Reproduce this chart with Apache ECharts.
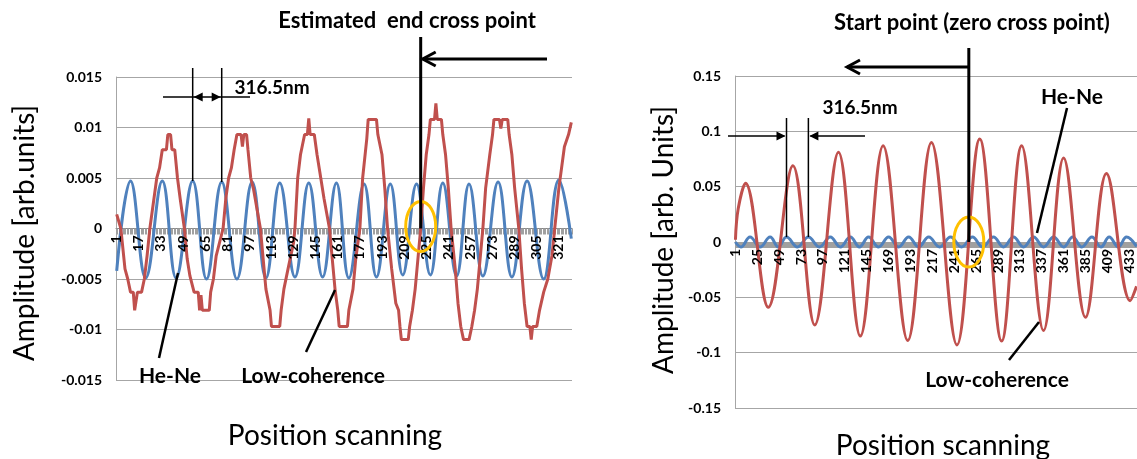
<!DOCTYPE html>
<html><head><meta charset="utf-8">
<script src="https://cdn.jsdelivr.net/npm/echarts@6/dist/echarts.min.js"></script>
<style>html,body{margin:0;padding:0;background:#fff}#c{width:1137px;height:459px}</style>
</head><body><div id="c"></div>
<script>
// ---------- data (category index, amplitude) ----------
const leftCount = 330;
const rightCount = 441;
const leftCategories = Array.from({length: leftCount}, (_, i) => String(i + 1));
const rightCategories = Array.from({length: rightCount}, (_, i) => String(i + 1));

const leftHeNe = [[1,-0.0042],[11,0.0047],[22,-0.0049],[34,0.0047],[44,-0.0049],[56,0.0047],[66,-0.005],[77,0.0046],[88,-0.005],[99,0.0046],[109,-0.0049],[119,0.0045],[130,-0.0048],[140,0.0045],[150,-0.0048],[160,0.0045],[169,-0.0049],[180,0.0044],[189,-0.0048],[199,0.0044],[208,-0.0046],[218,0.0044],[228,-0.0046],[237,0.0045],[247,-0.0047],[256,0.0044],[266,-0.0047],[277,0.0046],[287,-0.0048],[298,0.0047],[310,-0.005],[321,0.0048],[330,-0.001]];

const leftLowCoherence = [[1,0.0014],[4,0],[7,-0.004],[9,-0.005],[11,-0.0063],[13,-0.0063],[14,-0.0081],[15,-0.0081],[16,-0.0063],[19,-0.0063],[21,-0.005],[23,-0.0027],[25,0],[28,0.003],[30,0.005],[32,0.006],[34,0.0078],[37,0.0078],[38,0.0093],[40,0.0093],[41,0.0078],[43,0.0078],[45,0.005],[47,0.0029],[50,0],[52,-0.003],[54,-0.0047],[57,-0.0063],[60,-0.0063],[61,-0.0081],[62,-0.0066],[63,-0.0081],[68,-0.0081],[69,-0.0063],[71,-0.005],[73,-0.0027],[78,0],[80,0.003],[82,0.005],[84,0.006],[86,0.0078],[88,0.0093],[91,0.0093],[92,0.0081],[93,0.0093],[95,0.0093],[96,0.0078],[98,0.005],[100,0.0039],[105,0],[107,-0.003],[109,-0.006],[112,-0.0081],[113,-0.0097],[119,-0.0097],[120,-0.0081],[122,-0.006],[125,-0.004],[129,-0.0014],[130,0],[132,0.005],[134,0.0073],[137,0.0093],[139,0.0093],[140,0.0109],[141,0.0093],[144,0.0093],[146,0.0073],[148,0.0056],[151,0.003],[155,0],[157,-0.003],[159,-0.006],[161,-0.0081],[162,-0.0097],[168,-0.0097],[169,-0.0081],[172,-0.006],[174,-0.003],[177,0],[179,0.005],[182,0.0089],[183,0.0108],[189,0.0108],[190,0.0093],[193,0.0073],[195,0.004],[197,0],[200,-0.004],[203,-0.0074],[205,-0.0081],[206,-0.0097],[207,-0.011],[212,-0.011],[213,-0.0097],[215,-0.0081],[217,-0.006],[219,-0.003],[221,0],[223,0.004],[225,0.0073],[227,0.0093],[228,0.0108],[231,0.0108],[232,0.0124],[233,0.0108],[236,0.0108],[237,0.0093],[239,0.0073],[241,0.004],[243,0],[246,-0.004],[248,-0.0074],[250,-0.0097],[252,-0.011],[256,-0.011],[258,-0.0097],[260,-0.0081],[262,-0.006],[264,-0.003],[266,0],[268,0.004],[271,0.0073],[273,0.0093],[274,0.0108],[278,0.0108],[279,0.0099],[280,0.0108],[284,0.0108],[285,0.0093],[287,0.0073],[289,0.004],[292,0],[294,-0.004],[296,-0.0074],[298,-0.0097],[300,-0.0097],[301,-0.011],[302,-0.0097],[305,-0.0097],[307,-0.0081],[310,-0.0063],[313,-0.005],[316,-0.0027],[318,0],[321,0.004],[325,0.0081],[328,0.0093],[330,0.0105]];

const rightHeNe = [[1,0.0],[7,-0.0045],[17,0.0045],[28,-0.0045],[39,0.0045],[48,-0.0045],[57,0.0045],[69,-0.0045],[81,0.0045],[93,-0.0045],[105,0.0045],[116,-0.0045],[127,0.0045],[137,-0.0045],[147,0.0045],[158,-0.0045],[169,0.0045],[180,-0.0045],[191,0.0045],[202,-0.0045],[213,0.0045],[225,-0.0045],[237,0.0045],[249,-0.0045],[261,0.0045],[272,-0.0045],[284,0.0045],[295,-0.0045],[306,0.0045],[317,-0.0045],[328,0.0045],[339,-0.0045],[350,0.0045],[361,-0.0045],[371,0.0045],[381,-0.0045],[392,0.0045],[402,-0.0045],[411,0.0045],[421,-0.0045],[430,0.0045],[441,-0.004]];

const rightLowCoherence = [[1,0.002],[4,0.03],[12,0.053],[37,-0.059],[64,0.069],[88,-0.075],[114,0.081],[138,-0.085],[163,0.087],[190,-0.089],[216,0.09],[244,-0.093],[269,0.093],[293,-0.0895],[315,0.087],[339,-0.08],[361,0.076],[385,-0.068],[408,0.062],[434,-0.053],[441,-0.04]];

const leftYTicks = {min: -0.015, max: 0.015, interval: 0.005};
const rightYTicks = {min: -0.15, max: 0.15, interval: 0.05};
const leftLabelEvery = 16, rightLabelEvery = 24;

// annotation anchors (category, value)
const leftCrossPoint = [221, 0];
const leftPeriodPeaks = [56, 77];
const rightCrossPoint = [257, 0];
const rightPeriodPeaks = [57, 81];

// ---------- chart ----------
const FONT = 'Lato, "Open Sans", sans-serif';
const BLUE = '#4F81BD', RED = '#C0504D', ORANGE = '#FFC000';
const toIdx = arr => arr.map(([c, v]) => [c - 1, v]);

// axis line + tick marks (below the curves)
function xLineAxis(gi, cats) {
  return {
    gridIndex: gi, type: 'category', data: cats, boundaryGap: true, position: 'bottom', offset: 0, z: 0,
    axisLine: {show: true, onZero: false, lineStyle: {color: '#868686', width: 1}},
    axisTick: {show: true, interval: 0, length: 6, lineStyle: {color: '#a0a0a0', width: 1}},
    axisLabel: {show: false},
    splitLine: {show: false}
  };
}
// tick labels (above the curves)
function xLabelAxis(gi, cats, every) {
  return {
    gridIndex: gi, type: 'category', data: cats, boundaryGap: true, position: 'bottom', offset: 0, z: 10,
    axisLine: {show: false, onZero: false},
    axisTick: {show: false},
    axisLabel: {interval: every - 1, rotate: 90, fontSize: 14, fontWeight: 'bold', color: '#000', margin: 7, fontFamily: FONT},
    splitLine: {show: false}
  };
}
function yAxisFor(gi, t, digits) {
  return {
    gridIndex: gi, type: 'value', min: t.min, max: t.max, interval: t.interval,
    axisLine: {show: true, lineStyle: {color: '#a6a6a6'}},
    axisTick: {show: false},
    axisLabel: {fontSize: 14, fontWeight: 'bold', color: '#000', margin: 14, fontFamily: FONT,
      formatter: v => String(+v.toFixed(digits))},
    splitLine: {show: true, lineStyle: {color: '#a6a6a6', width: 1}}
  };
}

const grids = [
  {left: 116, right: 565, top: 77, bottom: 79, outerBoundsMode: 'none'},
  {left: 735, right: 0, top: 76, bottom: 51, outerBoundsMode: 'none'}
];
const chart = echarts.init(document.getElementById('c'));
chart.setOption({
  animation: false,
  backgroundColor: '#ffffff',
  textStyle: {fontFamily: FONT},
  grid: grids,
  xAxis: [
    xLineAxis(0, leftCategories), xLineAxis(1, rightCategories),
    xLabelAxis(0, leftCategories, leftLabelEvery), xLabelAxis(1, rightCategories, rightLabelEvery)
  ],
  yAxis: [yAxisFor(0, leftYTicks, 3), yAxisFor(1, rightYTicks, 2)],
  series: [
    {name: 'He-Ne', type: 'line', xAxisIndex: 0, yAxisIndex: 0, data: toIdx(leftHeNe), smooth: 0.42, showSymbol: false, lineStyle: {color: BLUE, width: 3}, z: 2},
    {name: 'Low-coherence', type: 'line', xAxisIndex: 0, yAxisIndex: 0, data: toIdx(leftLowCoherence), smooth: false, showSymbol: false, lineStyle: {color: RED, width: 3}, z: 3},
    {name: 'He-Ne', type: 'line', xAxisIndex: 1, yAxisIndex: 1, data: toIdx(rightHeNe), smooth: 0.42, showSymbol: false, lineStyle: {color: BLUE, width: 3}, z: 2},
    {name: 'Low-coherence', type: 'line', xAxisIndex: 1, yAxisIndex: 1, data: toIdx(rightLowCoherence), smooth: 0.38, showSymbol: false, lineStyle: {color: RED, width: 3}, z: 3}
  ]
});

// move each category axis (line, ticks, labels) up to the zero line
const H = 459;
const zeroY0 = chart.convertToPixel({gridIndex: 0}, [0, 0])[1];
const zeroY1 = chart.convertToPixel({gridIndex: 1}, [0, 0])[1];
const off0 = zeroY0 - (H - grids[0].bottom);
const off1 = zeroY1 - (H - grids[1].bottom);
chart.setOption({xAxis: [{offset: off0}, {offset: off1}, {offset: off0}, {offset: off1}]});

// ---------- annotations ----------
const px = (gi, pt) => chart.convertToPixel({gridIndex: gi}, [pt[0] - 1, pt[1]]);
const L = (x1, y1, x2, y2, w) => ({type: 'line', silent: true, z: 100, shape: {x1, y1, x2, y2}, style: {stroke: '#000', lineWidth: w}});
const tri = (x, y, dir, len, half) => ({type: 'polygon', silent: true, z: 100, shape: {points: [[x, y], [x - dir * len, y - half], [x - dir * len, y + half]]}, style: {fill: '#000'}});
const chev = (x, y, dir, len, half, w) => ({type: 'polyline', silent: true, z: 100, shape: {points: [[x - dir * len, y - half], [x, y], [x - dir * len, y + half]]}, style: {stroke: '#000', lineWidth: w, fill: null}});
const T = (x, y, text, size, weight, rot) => ({type: 'text', silent: true, z: 100, x, y, rotation: rot || 0,
  style: {text, fill: '#000', fontSize: size, fontWeight: weight, fontFamily: FONT, align: 'center', verticalAlign: 'middle'}});
const ell = (cx, cy) => ({type: 'ellipse', silent: true, z: 90, shape: {cx, cy, rx: 15, ry: 25}, style: {stroke: ORANGE, lineWidth: 3, fill: null}});

const g = [];
// left panel
const lc = px(0, leftCrossPoint);
g.push(T(407, 21, 'Estimated  end cross point', 22, 'bold'));
g.push(L(lc[0], 37, lc[0], lc[1], 3));
g.push(L(lc[0] + 2, 59, 547, 59, 3));
g.push(chev(lc[0] + 2, 59, -1, 13, 7, 3));
g.push(ell(lc[0], lc[1] - 2));
const lp1 = px(0, [leftPeriodPeaks[0], leftHeNe.find(d => d[0] === leftPeriodPeaks[0])[1]]);
const lp2 = px(0, [leftPeriodPeaks[1], leftHeNe.find(d => d[0] === leftPeriodPeaks[1])[1]]);
g.push(L(lp1[0], 68, lp1[0], lp1[1], 1.5));
g.push(L(lp2[0], 68, lp2[0], lp2[1], 1.5));
g.push(L(163, 97, 250, 97, 1.3));
g.push(tri(lp1[0] + 1, 97, -1, 9, 4.5));
g.push(tri(lp2[0] - 1, 97, 1, 9, 4.5));
g.push(T(272, 88, '316.5nm', 19, 'bold'));
g.push(T(170, 376, 'He-Ne', 21, 'bold'));
g.push(L(178, 273, 159, 358, 2.5));
g.push(T(313, 376, 'Low-coherence', 21, 'bold'));
g.push(L(335, 290, 306, 352, 2.5));
g.push(T(335, 436, 'Position scanning', 28, 'normal'));
g.push(T(25, 233, 'Amplitude [arb.units]', 28, 'normal', Math.PI / 2));
// right panel
const rc = px(1, rightCrossPoint);
g.push(T(972, 23, 'Start point (zero cross point)', 22, 'bold'));
g.push(L(rc[0], 48, rc[0], rc[1], 3));
g.push(L(rc[0], 67, 847, 67, 3));
g.push(chev(847, 67, -1, 13, 7, 3));
g.push(ell(rc[0], rc[1]));
const rp1 = px(1, [rightPeriodPeaks[0], rightHeNe.find(d => d[0] === rightPeriodPeaks[0])[1]]);
const rp2 = px(1, [rightPeriodPeaks[1], rightHeNe.find(d => d[0] === rightPeriodPeaks[1])[1]]);
g.push(L(rp1[0], 118, rp1[0], rp1[1], 1.5));
g.push(L(rp2[0], 118, rp2[0], rp2[1], 1.5));
g.push(L(728, 136, rp1[0] - 2, 136, 1.3));
g.push(tri(rp1[0] - 1, 136, 1, 9, 4.5));
g.push(L(rp2[0] + 2, 136, 865, 136, 1.3));
g.push(tri(rp2[0] + 1, 136, -1, 9, 4.5));
g.push(T(860, 108, '316.5nm', 19, 'bold'));
g.push(T(1072, 97, 'He-Ne', 21, 'bold'));
g.push(L(1067, 108, 1037, 233, 2.5));
g.push(T(997, 380, 'Low-coherence', 21, 'bold'));
g.push(L(1009, 360, 1039, 322, 2.5));
g.push(T(943, 446, 'Position scanning', 28, 'normal'));
g.push(T(664, 240, 'Amplitude [arb. Units]', 28, 'normal', Math.PI / 2));

chart.setOption({graphic: g});
</script>
</body></html>
